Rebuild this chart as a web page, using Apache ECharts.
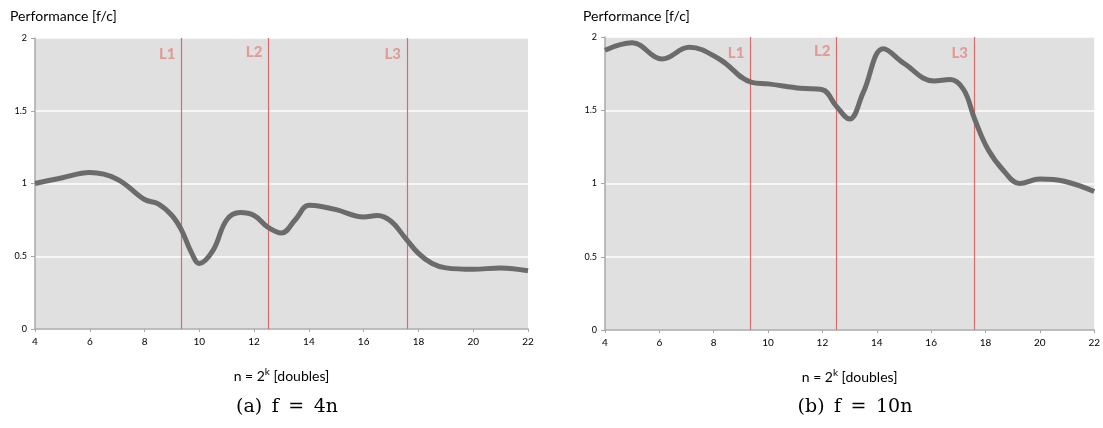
<!DOCTYPE html>
<html>
<head>
<meta charset="utf-8">
<script src="https://cdn.jsdelivr.net/npm/echarts@6/dist/echarts.min.js"></script>
<style>html,body{margin:0;padding:0;background:#fff;}#c{width:1103px;height:428px;}</style>
</head>
<body>
<div id="c"></div>
<script>
// data
const xA = [4,5,6,7,8,8.5,9,9.35,9.7,10,10.5,11,11.5,12,12.5,13,13.5,14,14.5,15,16,16.5,17,17.5,18,18.5,19,20,21,22];
const perfA = [1.0,1.04,1.075,1.03,0.89,0.86,0.78,0.68,0.53,0.45,0.54,0.75,0.80,0.78,0.70,0.66,0.75,0.85,0.84,0.82,0.77,0.78,0.74,0.63,0.52,0.45,0.42,0.41,0.42,0.40];
const xB = [4,5,6.1,7.1,8.2,9.4,10,11.2,12,12.5,13,13.5,14.25,15,16.1,16.7,17.2,17.6,18.1,18.7,19.25,20,20.9,22];
const perfB = [1.91,1.96,1.85,1.93,1.85,1.69,1.68,1.65,1.64,1.53,1.44,1.62,1.92,1.82,1.70,1.71,1.64,1.44,1.23,1.08,1.0,1.03,1.015,0.945];
const cacheNames = ['L1','L2','L3'];
const cacheX = [9.35,12.52,17.58];
const xTicks = [4,6,8,10,12,14,16,18,20,22];
const yTicks = [0,0.5,1,1.5,2];
const titles = ['(a)\u2002f\u2002=\u20024n','(b)\u2002f\u2002=\u200210n'];

const font = 'Lato, "Open Sans", sans-serif';
function pairs(xs, ys){ return xs.map((x,i)=>[x,ys[i]]); }
function xAxis(gi){
  return {
    type:'value', gridIndex:gi, min:4, max:22, interval:2,
    name:'n = 2{sup|k} [doubles]', nameLocation:'middle', nameGap:38,
    nameTextStyle:{color:'#000', fontSize:14, fontFamily:font, rich:{sup:{fontSize:10, verticalAlign:'top', padding:[0,0,8,0], fontFamily:font}}},
    axisLine:{show:true, lineStyle:{color:'#a8a8a8', width:1.5}},
    axisTick:{show:true, length:3, lineStyle:{color:'#a8a8a8'}},
    axisLabel:{color:'#000', fontSize:10, fontFamily:font, margin:8},
    splitLine:{show:false}
  };
}
function yAxis(gi){
  return {
    type:'value', gridIndex:gi, min:0, max:2, interval:0.5,
    axisLine:{show:true, lineStyle:{color:'#a8a8a8', width:1.5}},
    axisTick:{show:true, length:4, lineStyle:{color:'#a8a8a8'}},
    axisLabel:{color:'#000', fontSize:9, fontFamily:font, margin:8, formatter:v=>String(v)},
    splitLine:{show:true, lineStyle:{color:'#ffffff', width:1.5}}
  };
}
function series(gi, xs, ys){
  return {
    type:'line', xAxisIndex:gi, yAxisIndex:gi, data:pairs(xs,ys), smooth:0.4,
    showSymbol:false, symbol:'none', z:3,
    lineStyle:{color:'#6b6b6b', width:5},
    markLine:{
      silent:true, symbol:'none', z:2,
      lineStyle:{color:'#dd6a6a', width:1.2, type:'solid'},
      label:{show:false},
      data:cacheX.map(x=>({xAxis:x}))
    },
    markPoint:{
      silent:true, symbol:'circle', symbolSize:0,
      label:{show:true, position:'left', distance:6, color:'#e39a9a', fontWeight:900, fontSize:15, fontFamily:font, formatter:p=>p.name},
      data:cacheNames.map((n,i)=>({name:n, coord:[cacheX[i], i===1?1.9:1.89]}))
    }
  };
}
const chart = echarts.init(document.getElementById('c'));
chart.setOption({
  animation:false,
  backgroundColor:'#fff',
  title:[
    {text:'Performance [f/c]', left:5, top:4, textStyle:{fontSize:14, fontWeight:'normal', color:'#000', fontFamily:font}},
    {text:'Performance [f/c]', left:578, top:4, textStyle:{fontSize:14, fontWeight:'normal', color:'#000', fontFamily:font}},
    {text:titles[0], left:282, textAlign:'center', top:393, textStyle:{fontSize:19, fontWeight:'normal', color:'#000', fontFamily:'"DejaVu Serif", "Liberation Serif", serif'}},
    {text:titles[1], left:850, textAlign:'center', top:393, textStyle:{fontSize:19, fontWeight:'normal', color:'#000', fontFamily:'"DejaVu Serif", "Liberation Serif", serif'}}
  ],
  grid:[
    {left:35, right:575, top:38, bottom:99, show:true, backgroundColor:'#e0e0e0', borderWidth:0},
    {left:605, right:6, top:37, bottom:98, show:true, backgroundColor:'#e0e0e0', borderWidth:0}
  ],
  xAxis:[xAxis(0), xAxis(1)],
  yAxis:[yAxis(0), yAxis(1)],
  series:[series(0,xA,perfA), series(1,xB,perfB)]
});
</script>
</body>
</html>
